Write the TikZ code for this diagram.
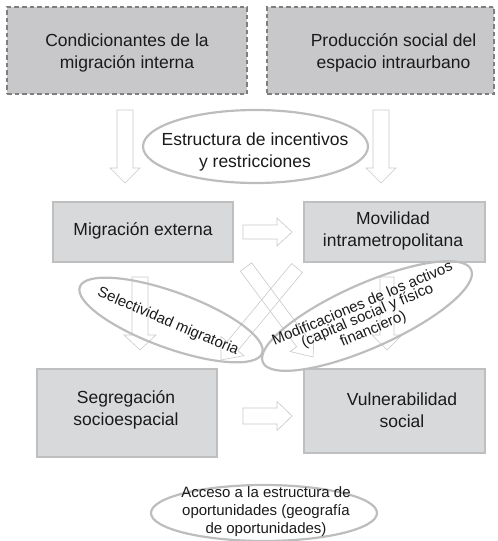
\documentclass[tikz,border=0pt]{standalone}
\usepackage{fontspec}
\setmainfont{Liberation Sans}
\usetikzlibrary{shapes.geometric,calc}
\definecolor{boxdark}{HTML}{C8C8CA}
\definecolor{boxlight}{HTML}{D8D9DB}
\definecolor{dashgray}{HTML}{7F7F7F}
\definecolor{edgegray}{HTML}{BFBFBF}
\definecolor{ellgray}{HTML}{BDBDBD}
\definecolor{arrgray}{HTML}{C8C8C8}
\definecolor{txt}{HTML}{1A1A1A}
\tikzset{
  topbox/.style={draw=dashgray, fill=boxdark, line width=2pt, dash pattern=on 4.5pt off 3pt, inner sep=0pt},
  midbox/.style={draw=edgegray, fill=boxlight, line width=2pt, inner sep=0pt},
  ell/.style={ellipse, draw=ellgray, line width=2.2pt, inner sep=0pt},
  bigtxt/.style={text=txt, align=center, font=\fontsize{17.5}{21.5}\selectfont, inner sep=0pt},
  smalltxt/.style={text=txt, align=center, font=\fontsize{15}{18}\selectfont, inner sep=0pt},
  tighttxt/.style={text=txt, align=center, font=\fontsize{15}{12.5}\selectfont, inner sep=0pt},
  barrow/.style={draw=arrgray, line width=0.6pt, line join=miter},
}
\newcommand\blockarrow[5]{%
  \coordinate (ba-n) at ($(#2)!#5!(#1)$);
  \draw[barrow] ($(#1)!#3!90:(#2)$) -- ($(ba-n)!#3!90:(#2)$) -- ($(ba-n)!#4!90:(#2)$) -- (#2)
    -- ($(ba-n)!#4!-90:(#2)$) -- ($(ba-n)!#3!-90:(#2)$) -- ($(#1)!#3!-90:(#2)$) -- cycle;}
\begin{document}
\begin{tikzpicture}[x=1pt,y=-1pt]
\useasboundingbox (0,0) rectangle (498,541);
% arrow end points
\coordinate (a1s) at (125,110); \coordinate (a1e) at (125,183);
\coordinate (a2s) at (381,110); \coordinate (a2e) at (381,183);
\coordinate (h1s) at (243,232); \coordinate (h1e) at (292,232);
\coordinate (d1s) at (140,277); \coordinate (d1e) at (140,350);
\coordinate (d2s) at (387,277); \coordinate (d2e) at (387,350);
\coordinate (xas) at (246,267); \coordinate (xae) at (313,357);
\coordinate (xbs) at (297,268); \coordinate (xbe) at (221,360);
\coordinate (h2s) at (243,416); \coordinate (h2e) at (292,416);
% arrows
\blockarrow{a1s}{a1e}{8pt}{15pt}{15pt}
\blockarrow{a2s}{a2e}{8pt}{15pt}{15pt}
\blockarrow{h1s}{h1e}{7pt}{14pt}{15pt}
\blockarrow{d1s}{d1e}{8pt}{16pt}{15pt}
\blockarrow{d2s}{d2e}{7pt}{15pt}{15pt}
\blockarrow{xas}{xae}{7pt}{15pt}{18pt}
\blockarrow{xbs}{xbe}{7pt}{15pt}{18pt}
\blockarrow{h2s}{h2e}{8pt}{14.5pt}{15pt}
% boxes
\node[topbox, minimum width=240pt, minimum height=87pt] (cond) at (127,50.5) {};
\node[topbox, minimum width=227pt, minimum height=87pt] (prod) at (380.5,50.5) {};
\node[midbox, minimum width=180pt, minimum height=60pt] (migext) at (143,232) {};
\node[midbox, minimum width=181pt, minimum height=60pt] (movil) at (394.5,232) {};
\node[midbox, minimum width=180pt, minimum height=88pt] (segreg) at (127,413) {};
\node[midbox, minimum width=181pt, minimum height=84pt] (vuln) at (394.5,411) {};
% ellipses
\node[ell, minimum width=225pt, minimum height=73pt] (incent) at (255.5,146.5) {};
\node[ell, minimum width=194pt, minimum height=56pt, rotate=-20] (selec) at (171,320) {};
\node[ell, minimum width=228pt, minimum height=64pt, rotate=24] (modif) at (367,316) {};
\node[ell, minimum width=226pt, minimum height=56pt] (acceso) at (264,513) {};
% texts
\node[bigtxt] (condt) at (127,53) {Condicionantes de la\\migración interna};
\node[bigtxt] (prodt) at (393.5,53) {Producción social del\\espacio intraurbano};
\node[bigtxt] (incentt) at (255,152) {Estructura de incentivos\\y restricciones};
\node[bigtxt] (migextt) at (143,231) {Migración externa};
\node[bigtxt] (movilt) at (393,231) {Movilidad\\intrametropolitana};
\node[bigtxt] (segregt) at (126,410) {Segregación\\socioespacial};
\node[bigtxt] (vulnt) at (402,410) {Vulnerabilidad\\social};
\node[smalltxt, rotate=-23] (select) at (168,322) {Selectividad migratoria};
\node[tighttxt, rotate=23] (modift) at (368,317) {Modificaciones de los activos\\(capital social y físico\\financiero)};
\node[smalltxt] (accesot) at (266,512) {Acceso a la estructura de\\oportunidades (geografía\\de oportunidades)};
\end{tikzpicture}
\end{document}
